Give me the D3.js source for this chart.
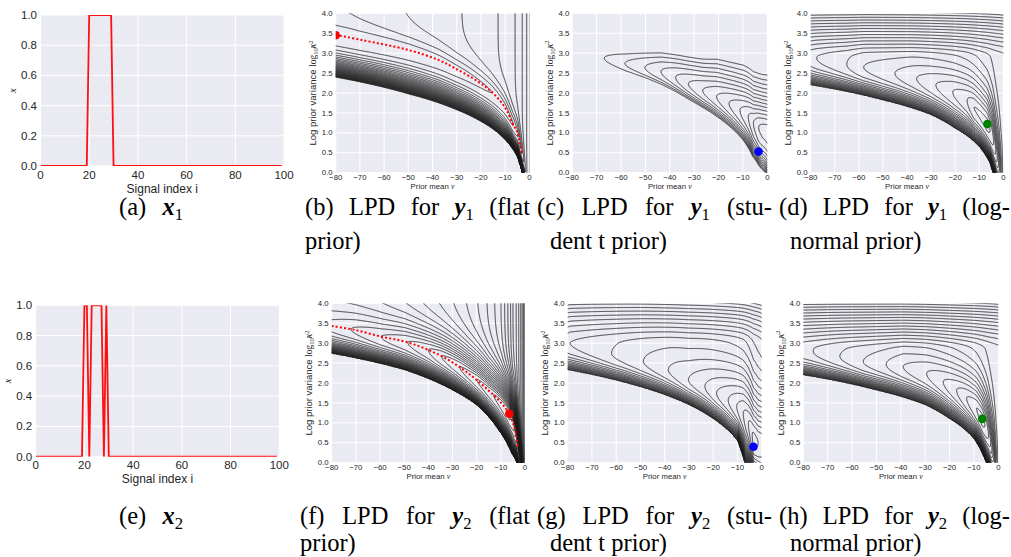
<!DOCTYPE html>
<html><head><meta charset="utf-8">
<script src="https://cdn.jsdelivr.net/npm/d3@7/dist/d3.min.js"></script>
<style>html,body{margin:0;padding:0;background:#fff;}svg{display:block;}</style>
</head><body>
<svg id="fig" width="1011" height="557"></svg>
<script>
// ===================== DATA =====================
const signalIndex = d3.range(0, 100);
const onesX1 = [20,21,22,23,24,25,26,27,28,29];
const onesX2 = [20,21,23,24,25,26,27,29];
const signalTicksX = [0,20,40,60,80,100];
const signalTicksY = [0,0.2,0.4,0.6,0.8,1.0];
const meanTicks = [-80,-70,-60,-50,-40,-30,-20,-10,0];
const varTicks = [0,0.5,1,1.5,2,2.5,3,3.5,4];

// LPD surfaces: ridge line (nu, log10 kappa^2), lower edge of the dense band,
// LPD value along the ridge (contour-level units), LPD asymptote far above the ridge
const ridgeB = [[-80,3.46],[-69.3,3.33],[-50,3.08],[-37.6,2.83],[-30.7,2.62],[-21,2.28],[-15.6,2.03],[-10.3,1.66],[-6.9,1.24],[-4.8,0.99],[-3.9,0.74],[-2.75,0.44]];
const edgeB  = [[-80,2.39],[-50,1.97],[-30,1.57],[-20,1.28],[-10,0.82],[-5,0.40],[-3,0.0]];
const rvalB  = [[-80,-0.1],[-40,-0.4],[-15.6,-1],[-6.5,-2],[-4.5,-3],[-3.6,-4],[-3,-5],[-2,-6.5],[-1,-8],[0,-10]];
const topB   = [[-80,-2.15],[-74,-2.23],[-50.7,-3.07],[-30,-3.9],[-18,-4.6],[-10,-5.3],[-5,-6.2],[-2,-7.5],[0,-9]];

const ridgeC = [[-80,3.05],[-66.9,2.87],[-58.4,2.74],[-50.2,2.64],[-43.6,2.54],[-37.6,2.39],[-32.4,2.23],[-26.5,2.06],[-20.8,1.91],[-15.7,1.74],[-11.2,1.57],[-7.8,1.41],[-5.7,1.25],[-3.6,1.15],[-2,1.1],[0,1.05]];
const edgeC  = [[-80,2.45],[-67,2.3],[-50,2.0],[-30,1.45],[-20,1.05],[-10,0.45],[-6,0.0],[-3,-0.3],[0,-0.6]];
const rvalC  = [[-80,-14.3],[-66.9,-13],[-58.4,-12],[-50.2,-11],[-43.6,-10],[-37.6,-9],[-32.4,-8],[-26.5,-7],[-20.8,-6],[-15.7,-5],[-11.2,-4],[-7.8,-3],[-5.7,-2],[-3.6,-1],[-2,-0.7],[0,-0.5]];
const topC   = [[-80,-32],[-50,-28.5],[-20.8,-21.8],[-10,-20.2],[0,-19.6]];

const ridgeD = [[-80,2.9],[-77.5,2.87],[-65,2.72],[-50,2.55],[-38,2.4],[-28,2.2],[-20,2.0],[-15,1.82],[-12.2,1.64],[-9,1.42],[-6.6,1.22],[-4.5,0.9],[-3,0.5],[-1.5,0.1],[0,-0.3]];
const edgeD  = [[-80,2.2],[-50,1.82],[-30,1.45],[-20,1.11],[-10,0.65],[-5.5,0.23],[-4.4,0.0],[-2,-0.5],[0,-0.8]];
const rvalD  = [[-80,-9.3],[-77.5,-9],[-65,-8],[-58,-7],[-45,-6],[-36,-5],[-28,-4],[-21,-3],[-15,-2],[-12.2,-1],[-6.6,-0.6],[-5,-1.2],[-4,-2],[-3,-3.2],[-2,-5],[-1,-8],[0,-10.5]];
const topD   = [[-80,-10],[-20,-10.3],[0,-10.8]];

const ridgeF = [[-80,3.43],[-70.3,3.33],[-59.3,3.16],[-49.7,3.04],[-40,2.83],[-31.7,2.58],[-23.4,2.24],[-15.2,1.82],[-9.7,1.49],[-6.5,1.22],[-4.1,0.82],[-3.0,0.40]];
const edgeF  = [[-80,2.74],[-50,2.33],[-30,1.82],[-19.3,1.41],[-11,0.82],[-5.5,0.23],[-3.4,0.0],[-1.5,-0.4],[0,-0.7]];
const rvalF  = [[-80,-8.6],[-72,-8],[-59.5,-7],[-48.5,-6],[-40,-5],[-34.5,-4],[-27,-3],[-20,-2],[-13,-1],[-6.5,0.3],[-4.5,-0.8],[-3.3,-3],[-2,-7],[-1,-12],[0,-18]];
const topF   = [[-80,-12],[-60,-13],[-40,-15],[-20,-18],[-10,-21],[-5,-25],[0,-32]];

const ridgeG = [[-80,3.0],[-79,3.0],[-61.9,2.74],[-48.8,2.54],[-38.5,2.33],[-30.2,2.08],[-23.4,1.91],[-18.6,1.74],[-13.8,1.57],[-10.3,1.41],[-7.6,1.24],[-5.5,0.99],[-3.4,0.6],[-1.5,0.5],[0,0.5]];
const edgeG  = [[-80,2.33],[-50,1.9],[-30,1.45],[-20,1.1],[-10,0.55],[-7,0.0],[-3,-0.5],[0,-0.8]];
const rvalG  = [[-80,-11.2],[-79,-11],[-61.9,-10],[-48.8,-9],[-38.5,-8],[-30.2,-7],[-23.4,-6],[-18.6,-5],[-13.8,-4],[-10.3,-3],[-7.6,-2],[-5.5,-1],[-3.4,0.4],[-1.5,0],[0,-0.3]];
const topG   = [[-80,-11.8],[-40,-12.5],[0,-14]];

const ridgeH = [[-80,2.82],[-75.9,2.79],[-55.4,2.54],[-39,2.41],[-29.4,2.24],[-22.6,2.03],[-17.1,1.82],[-13,1.62],[-8.9,1.36],[-6.6,1.10],[-4.5,0.8],[-3,0.45],[-1.5,0.1],[0,-0.3]];
const edgeH  = [[-80,2.2],[-50,1.82],[-30,1.45],[-20,1.1],[-10,0.6],[-6,0.15],[-5,0.0],[-2,-0.5],[0,-0.8]];
const rvalH  = [[-80,-10.3],[-75.9,-10],[-65,-9],[-55.4,-8],[-46,-7],[-39,-6],[-29.4,-5],[-22.6,-4],[-17.1,-3],[-13,-2],[-8.9,-1],[-6.6,-0.6],[-5,-1.2],[-4,-2],[-3,-3.2],[-2,-5.5],[-1,-9],[0,-11.5]];
const topH   = [[-80,-11],[-20,-11.3],[0,-11.8]];

// contour levels of each surface
const levelsB = d3.range(-35, 0);
const levelsC = d3.range(-13, 0);
const levelsD = d3.range(-25, 0);
const levelsF = d3.range(-33, 1);
const levelsG = d3.range(-25, 1);
const levelsH = d3.range(-26, 0);

// optimum markers (nu, log10 kappa^2)
const optB = [-80, 3.45], optC = [-3.6, 0.53], optD = [-6.6, 1.22];
const optF = [-6.5, 1.23], optG = [-3.4, 0.40], optH = [-6.6, 1.10];

const captionTexts = [
  [['(a) ',''],['x','bi'],['1','sub']],
  [['(b) LPD for ',''],['y','bi'],['1','sub'],[' (flat','']],
  [['(c) LPD for ',''],['y','bi'],['1','sub'],[' (stu-','']],
  [['(d) LPD for ',''],['y','bi'],['1','sub'],[' (log-','']],
  [['(e) ',''],['x','bi'],['2','sub']],
  [['(f) LPD for ',''],['y','bi'],['2','sub'],[' (flat','']],
  [['(g) LPD for ',''],['y','bi'],['2','sub'],[' (stu-','']],
  [['(h) LPD for ',''],['y','bi'],['2','sub'],[' (log-','']]
];
const captionSecond = [null, 'prior)', 'dent t prior)', 'normal prior)', null, 'prior)', 'dent t prior)', 'normal prior)'];

// ===================== LAYOUT =====================
const R = {
  a:{x0:40.5,x1:284,y0:15,y1:166}, b:{x0:335.7,x1:529.3,y0:13.3,y1:172.7},
  c:{x0:572.3,x1:767.3,y0:13.3,y1:172.7}, d:{x0:810.7,x1:1003.3,y0:13.3,y1:172.7},
  e:{x0:35.7,x1:279.3,y0:305.3,y1:456.7}, f:{x0:331.7,x1:525,y0:303.3,y1:462.7},
  g:{x0:567.7,x1:761.7,y0:303.3,y1:462.7}, h:{x0:803.3,x1:998.3,y0:303.3,y1:462.7}
};
const capLayout = [
  {x:119,w:64,y:215},{x:305,w:225,y:215,x2:305,y2:249},{x:537,w:235,y:215,x2:550,y2:249},{x:779,w:231,y:215,x2:790,y2:249},
  {x:119,w:64,y:524},{x:300,w:230,y:524,x2:300,y2:551},{x:537,w:235,y:524,x2:550,y2:551},{x:779,w:231,y:524,x2:790,y2:551}
];
const BG = '#EAEAF2', INK = '#262626', SANS = "'Liberation Sans', Arial, sans-serif", SERIF = "'Liberation Serif','DejaVu Serif',serif";

const svg = d3.select('#fig');
svg.append('rect').attr('width',1011).attr('height',557).attr('fill','#fff');
let clipId = 0;
function clipFor(r){
  const id = 'clip' + (clipId++);
  svg.append('clipPath').attr('id', id).append('rect')
    .attr('x', r.x0).attr('y', r.y0).attr('width', r.x1 - r.x0).attr('height', r.y1 - r.y0);
  return 'url(#' + id + ')';
}

// ===================== SIGNAL PANELS =====================
function signalPanel(r, ones){
  const values = signalIndex.map(i => ones.includes(i) ? 1 : 0);
  const x = d3.scaleLinear().domain([0,100]).range([r.x0, r.x1]);
  const y = d3.scaleLinear().domain([0,1]).range([r.y1, r.y0]);
  const g = svg.append('g');
  g.append('rect').attr('x',r.x0).attr('y',r.y0).attr('width',r.x1-r.x0).attr('height',r.y1-r.y0).attr('fill',BG);
  g.selectAll('.gx').data(signalTicksX).join('line').attr('x1',d=>x(d)).attr('x2',d=>x(d)).attr('y1',r.y0).attr('y2',r.y1).attr('stroke','#fff').attr('stroke-width',1);
  g.selectAll('.gy').data(signalTicksY).join('line').attr('y1',d=>y(d)).attr('y2',d=>y(d)).attr('x1',r.x0).attr('x2',r.x1).attr('stroke','#fff').attr('stroke-width',1);
  g.append('path').datum(values).attr('clip-path', clipFor(r))
    .attr('d', d3.line().x((d,i)=>x(signalIndex[i])).y(d=>y(d)))
    .attr('fill','none').attr('stroke','#ff1010').attr('stroke-width',1.8);
  g.selectAll('.tx').data(signalTicksX).join('text').attr('x',d=>x(d)).attr('y',r.y1+12.5)
    .attr('text-anchor','middle').attr('font-family',SANS).attr('font-size',11.5).attr('fill',INK).text(d=>d);
  g.selectAll('.ty').data(signalTicksY).join('text').attr('x',r.x0-3.5).attr('y',d=>y(d)+4)
    .attr('text-anchor','end').attr('font-family',SANS).attr('font-size',11.5).attr('fill',INK).text(d=>d3.format('.1f')(d));
  g.append('text').attr('x',(r.x0+r.x1)/2).attr('y',r.y1+26.5).attr('text-anchor','middle')
    .attr('font-family',SANS).attr('font-size',12).attr('fill',INK).text('Signal index i');
  g.append('text').attr('transform',`translate(${r.x0-25},${(r.y0+r.y1)/2}) rotate(-90)`).attr('text-anchor','middle')
    .attr('font-family',SERIF).attr('font-style','italic').attr('font-size',10).attr('fill',INK).text('x');
}
signalPanel(R.a, onesX1);
signalPanel(R.e, onesX2);

// ===================== LPD CONTOUR PANELS =====================
function pAt(nu){ return Math.log10(Math.max(-nu, 0) + 1); }
function profile(pts){ return d3.scaleLinear().domain(pts.map(d=>pAt(d[0]))).range(pts.map(d=>d[1])); }
function makeField(P){
  const ridge = profile(P.ridge), edge = profile(P.edge), rval = profile(P.rval), top = profile(P.top);
  const gK = Math.exp(P.K) - 1 - P.K;
  return function(nu, s){
    const p = pAt(nu);
    const r = ridge(p), e = Math.min(edge(p), r - 0.05), Rv = rval(p), T = top(p);
    let f;
    if (s >= r) { const z = P.Z*(s - r); f = Rv + (T - Rv)*(1 - (1 + z)*Math.exp(-z)); }
    else if (s > e) { const yy = P.K*(r - s)/(r - e); f = Rv - (Rv - P.floor)*(Math.exp(yy) - 1 - yy)/gK; }
    else f = P.floor - 60;
    const d = Math.max(0, s - P.sT);
    f -= P.a*(Math.sqrt(d*d + 0.04) - 0.2) + P.b*d*d;
    return f;
  };
}

function contourPanel(r, P, levels, opt){
  const x = d3.scaleLinear().domain([-80,0]).range([r.x0, r.x1]);
  const y = d3.scaleLinear().domain([0,4]).range([r.y1, r.y0]);
  const g = svg.append('g');
  g.append('rect').attr('x',r.x0).attr('y',r.y0).attr('width',r.x1-r.x0).attr('height',r.y1-r.y0).attr('fill',BG);
  g.selectAll('.gx').data(meanTicks).join('line').attr('x1',d=>x(d)).attr('x2',d=>x(d)).attr('y1',r.y0).attr('y2',r.y1).attr('stroke','#fff').attr('stroke-width',1);
  g.selectAll('.gy').data(varTicks).join('line').attr('y1',d=>y(d)).attr('y2',d=>y(d)).attr('x1',r.x0).attr('x2',r.x1).attr('stroke','#fff').attr('stroke-width',1);

  const step = 0.6, m = 3;
  const nx = Math.ceil((r.x1 - r.x0)/step) + 2*m + 1, ny = Math.ceil((r.y1 - r.y0)/step) + 2*m + 1;
  const f = makeField(P);
  const vals = new Float64Array(nx*ny);
  for (let j = 0; j < ny; j++){
    const s = y.invert(r.y0 + (j - m)*step);
    for (let i = 0; i < nx; i++) vals[j*nx + i] = f(x.invert(r.x0 + (i - m)*step), s);
  }
  const contours = d3.contours().size([nx, ny]).thresholds(levels)(vals);
  const proj = d3.geoTransform({ point: function(gx, gy){
    this.stream.point(x(x.invert(r.x0 + (gx - 0.5 - m)*step)), y(y.invert(r.y0 + (gy - 0.5 - m)*step)));
  }});
  const path = d3.geoPath(proj);
  const cg = g.append('g').attr('clip-path', clipFor(r));
  cg.selectAll('path').data(contours).join('path').attr('d', path)
    .attr('fill','none').attr('stroke','#202020').attr('stroke-width',0.85).attr('stroke-linejoin','round');
  if (opt.ridgeLine) {
    cg.append('path').datum(opt.ridgeLine)
      .attr('d', d3.line().x(d=>x(d[0])).y(d=>y(d[1])).curve(d3.curveCatmullRom))
      .attr('fill','none').attr('stroke','#ff0000').attr('stroke-width',2).attr('stroke-dasharray','2,2.2');
  }
  cg.append('circle').attr('cx',x(opt.point[0])).attr('cy',y(opt.point[1])).attr('r',4.3).attr('fill',opt.color);

  g.selectAll('.tx').data(meanTicks).join('text').attr('x',d=>x(d)).attr('y',r.y1+7.2)
    .attr('text-anchor','middle').attr('font-family',SANS).attr('font-size',7.8).attr('fill',INK).text(d=>d3.format('d')(d));
  g.selectAll('.ty').data(varTicks).join('text').attr('x',r.x0-3).attr('y',d=>y(d)+2.6)
    .attr('text-anchor','end').attr('font-family',SANS).attr('font-size',7.8).attr('fill',INK).text(d=>d3.format('.1f')(d));
  const xl = g.append('text').attr('x',(r.x0+r.x1)/2).attr('y',r.y1+15.8).attr('text-anchor','middle')
    .attr('font-family',SANS).attr('font-size',7.8).attr('fill',INK);
  xl.append('tspan').text('Prior mean ');
  xl.append('tspan').attr('font-family',SERIF).attr('font-style','italic').text('ν');
  const yl = g.append('text').attr('transform',`translate(${r.x0-19.5},${(r.y0+r.y1)/2}) rotate(-90)`).attr('text-anchor','middle')
    .attr('font-family',SANS).attr('font-size',9.5).attr('fill',INK);
  yl.append('tspan').text('Log prior variance ');
  yl.append('tspan').attr('font-family',SERIF).text('log');
  yl.append('tspan').attr('font-family',SERIF).attr('font-size',6.5).attr('dy',2).text('10');
  yl.append('tspan').attr('font-family',SERIF).attr('font-style','italic').attr('dy',-2).text('κ');
  yl.append('tspan').attr('font-family',SERIF).attr('font-size',6.5).attr('dy',-3.5).text('2');
}

const common = {K:3, a:0, b:0, sT:99};
contourPanel(R.b, Object.assign({}, common, {ridge:ridgeB, edge:edgeB, rval:rvalB, top:topB, Z:6.2, floor:-36}), levelsB, {ridgeLine:ridgeB, point:optB, color:'#ff0000'});
contourPanel(R.c, Object.assign({}, common, {ridge:ridgeC, edge:edgeC, rval:rvalC, top:topC, Z:1.6, floor:-40}), levelsC, {point:optC, color:'#0000ff'});
contourPanel(R.d, Object.assign({}, common, {ridge:ridgeD, edge:edgeD, rval:rvalD, top:topD, Z:2.5, floor:-25, a:7.9, b:3, sT:2.9}), levelsD, {point:optD, color:'#008000'});
contourPanel(R.f, Object.assign({}, common, {ridge:ridgeF, edge:edgeF, rval:rvalF, top:topF, Z:3.7, floor:-33}), levelsF, {ridgeLine:ridgeF, point:optF, color:'#ff0000'});
contourPanel(R.g, Object.assign({}, common, {ridge:ridgeG, edge:edgeG, rval:rvalG, top:topG, Z:1.6, floor:-25, a:5, b:2.9, sT:3.0}), levelsG, {point:optG, color:'#0000ff'});
contourPanel(R.h, Object.assign({}, common, {ridge:ridgeH, edge:edgeH, rval:rvalH, top:topH, Z:2.5, floor:-26, a:7.9, b:3, sT:2.85}), levelsH, {point:optH, color:'#008000'});

// ===================== CAPTIONS =====================
const CAP = 24.5;
captionTexts.forEach((parts, k) => {
  const L = capLayout[k];
  const t = svg.append('text').attr('x', L.x).attr('y', L.y).attr('font-family', SERIF).attr('font-size', CAP).attr('fill','#000');
  let shifted = false, spaces = 0;
  parts.forEach(([txt, sty]) => {
    const ts = t.append('tspan').text(txt);
    spaces += (txt.match(/ /g) || []).length;
    if (sty === 'bi') ts.attr('font-weight','bold').attr('font-style','italic');
    if (sty === 'sub') { ts.attr('font-size',CAP*0.68).attr('dy',4.5); shifted = true; }
    else if (shifted) { ts.attr('dy',-4.5); shifted = false; }
  });
  const natural = t.node().getComputedTextLength();
  if (spaces > 0 && L.w > natural) t.style('word-spacing', ((L.w - natural)/spaces).toFixed(2) + 'px');
  if (captionSecond[k]) {
    svg.append('text').attr('x', L.x2).attr('y', L.y2).attr('font-family', SERIF).attr('font-size', CAP)
      .attr('fill','#000').text(captionSecond[k]);
  }
});
</script>
</body></html>
